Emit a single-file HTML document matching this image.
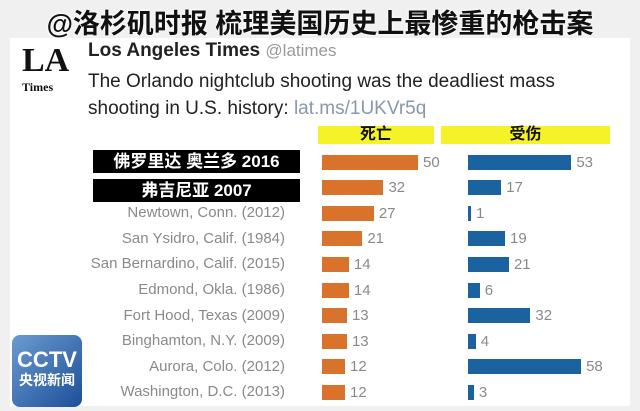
<!DOCTYPE html>
<html><head><meta charset="utf-8"><style>
body{margin:0;width:640px;height:411px;background:#f0f0f0;position:relative;overflow:hidden;font-family:"Liberation Sans","Noto Sans CJK SC",sans-serif}
.a{position:absolute}
.t{left:0;width:640px;top:2px;text-align:center;font-size:27px;font-weight:bold;color:#111;text-shadow:0 0 3px #fff,0 0 2px #fff;font-family:"Liberation Sans","Noto Sans CJK SC",sans-serif}
.lab{right:355px;font-size:15px;color:#8a8a8a;text-align:right;white-space:nowrap;line-height:18px}
.o{left:322px;height:15px;background:#d9722a}
.b{left:468px;height:15px;background:#1a63a0}
.n{font-size:15px;color:#8a8a8a;line-height:15px}
.blk{left:93px;width:207px;height:23px;background:#000;color:#fff;font-size:17px;font-weight:bold;text-align:center;line-height:23px}
.y{top:126px;height:18px;background:#f5f22a;font-weight:bold;font-size:16px;text-align:center;line-height:18px;color:#111}
</style></head><body>
<div class="a" style="left:10px;top:38px;width:620px;height:368px;background:#fff"></div>
<div class="a t">@洛杉矶时报 梳理美国历史上最惨重的枪击案</div>
<div class="a" style="left:22px;top:42px;font-family:'Liberation Serif',serif;font-size:34px;font-weight:bold;color:#111">LA</div>
<div class="a" style="left:22px;top:80px;font-family:'Liberation Serif',serif;font-size:12px;font-weight:bold;color:#111">Times</div>
<div class="a" style="left:88px;top:40px;font-size:19px;color:#222"><b>Los Angeles Times</b> <span style="color:#999;font-size:17px">@latimes</span></div>
<div class="a" style="left:88px;top:68px;font-size:19px;color:#222;line-height:27px">The Orlando nightclub shooting was the deadliest mass<br>shooting in U.S. history: <span style="color:#8899aa">lat.ms/1UKVr5q</span></div>
<div class="a y" style="left:318px;width:116px">死亡</div>
<div class="a y" style="left:441px;width:169px">受伤</div>
<div class="a blk" style="top:150px">佛罗里达 奥兰多 2016</div>
<div class="a blk" style="top:179px">弗吉尼亚 2007</div>
<div id="rows"></div>
<script>
var d=[["",50,53],["",32,17],["Newtown, Conn. (2012)",27,1],["San Ysidro, Calif. (1984)",21,19],["San Bernardino, Calif. (2015)",14,21],["Edmond, Okla. (1986)",14,6],["Fort Hood, Texas (2009)",13,32],["Binghamton, N.Y. (2009)",13,4],["Aurora, Colo. (2012)",12,58],["Washington, D.C. (2013)",12,3]];
var h="";d.forEach(function(r,i){var c=162+i*25.6,t=c-7.5;
if(r[0])h+='<div class="a lab" style="top:'+(c-9)+'px">'+r[0]+'</div>';
var ow=r[1]*1.92,bw=Math.max(r[2]*1.95,3);
h+='<div class="a o" style="top:'+t+'px;width:'+ow+'px"></div><div class="a n" style="top:'+t+'px;left:'+(322+ow+5)+'px">'+r[1]+'</div>';
h+='<div class="a b" style="top:'+t+'px;width:'+bw+'px"></div><div class="a n" style="top:'+t+'px;left:'+(468+bw+5)+'px">'+r[2]+'</div>';});
document.getElementById("rows").innerHTML=h;
</script>
<div class="a" style="left:12px;top:335px;width:70px;height:72px;border-radius:8px;background:linear-gradient(135deg,#6b9bd0,#1d4f9a);color:#fff;text-align:center;font-weight:bold">
<div style="font-size:22px;margin-top:14px;line-height:22px">CCTV</div><div style="font-size:14px;line-height:18px">央视新闻</div></div>
</body></html>
